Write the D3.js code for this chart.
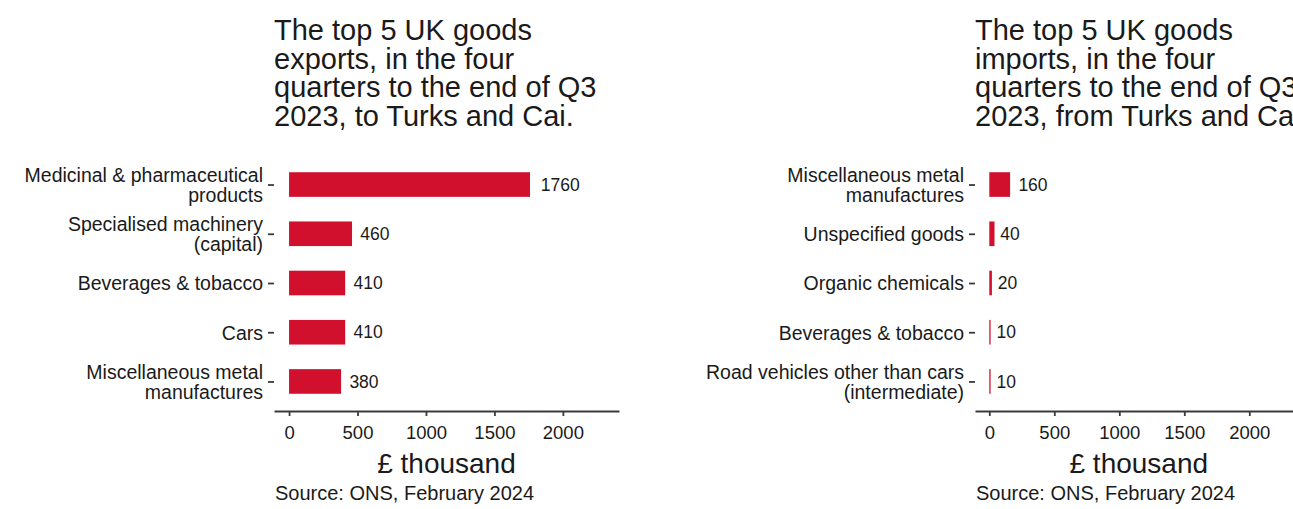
<!DOCTYPE html>
<html>
<head>
<meta charset="utf-8">
<script src="https://cdn.jsdelivr.net/npm/d3@7"></script>
<style>
  body { margin: 0; background: #fff; }
  text { font-family: "Liberation Sans", Arial, sans-serif; fill: #1a1a1a; }
</style>
</head>
<body>
<svg id="chart"></svg>
<script>
const svgWidth = 1293;
const svgHeight = 509;

// data
const exportCategories = [
  'Medicinal & pharmaceutical\nproducts',
  'Specialised machinery\n(capital)',
  'Beverages & tobacco',
  'Cars',
  'Miscellaneous metal\nmanufactures',
];
const exportValues = [1760, 460, 410, 410, 380];

const importCategories = [
  'Miscellaneous metal\nmanufactures',
  'Unspecified goods',
  'Organic chemicals',
  'Beverages & tobacco',
  'Road vehicles other than cars\n(intermediate)',
];
const importValues = [160, 40, 20, 10, 10];

const xTicks = [0, 500, 1000, 1500, 2000];
const exportTitle = ['The top 5 UK goods', 'exports, in the four', 'quarters to the end of Q3', '2023, to Turks and Cai.'];
const importTitle = ['The top 5 UK goods', 'imports, in the four', 'quarters to the end of Q3', '2023, from Turks and Cai.'];
const xAxisTitle = '£ thousand';
const sourceNote = 'Source: ONS, February 2024';

const barColor = '#d0102c';
const axisColor = '#3a3a3a';

const svg = d3.select('#chart')
  .attr('width', svgWidth)
  .attr('height', svgHeight);

function drawPanel(opts) {
  const { left, right, categories, values, title } = opts;
  const top = 155;
  const bottom = 411;

  const x = d3.scaleLinear()
    .domain([-110, 2410])
    .range([left, right]);

  // ggplot-like discrete expansion (0.6 of a step each side)
  const step = (bottom - top) / (categories.length - 1 + 1.2);
  const y = d3.scalePoint()
    .domain(categories)
    .range([top + 0.6 * step, bottom - 0.6 * step]);
  const barH = step * 0.5;

  const g = svg.append('g');

  // bars
  g.append('g')
    .selectAll('rect')
    .data(values)
    .enter()
    .append('rect')
    .attr('x', x(0))
    .attr('y', (d, i) => y(categories[i]) - barH / 2)
    .attr('width', d => x(d) - x(0))
    .attr('height', barH)
    .attr('fill', barColor);

  // value labels, nudged right by a share of their width
  g.append('g')
    .selectAll('text')
    .data(values)
    .enter()
    .append('text')
    .attr('y', (d, i) => y(categories[i]))
    .attr('dy', '0.35em')
    .attr('font-size', 17.5)
    .attr('fill', '#333')
    .text(d => d)
    .attr('x', function (d) { return x(d) + this.getComputedTextLength() / 4 + 1; });

  // y-axis
  const yAxis = g.append('g')
    .attr('transform', `translate(${left},0)`)
    .call(d3.axisLeft(y).tickSize(6).tickPadding(5));
  yAxis.select('.domain').remove();
  yAxis.selectAll('.tick line')
    .attr('stroke', axisColor)
    .attr('stroke-width', 1.8);
  yAxis.selectAll('.tick text')
    .attr('font-size', 19.5)
    .attr('font-family', '"Liberation Sans", Arial, sans-serif')
    .attr('fill', '#1a1a1a')
    .each(function (d) {
      const lines = d.split('\n');
      const t = d3.select(this).text(null).attr('dy', null);
      const lh = 19.5;
      lines.forEach((line, i) => {
        t.append('tspan')
          .attr('x', -11)
          .attr('y', (i - (lines.length - 1) / 2) * lh)
          .attr('dy', '0.35em')
          .text(line);
      });
    });

  // x-axis
  const xAxis = g.append('g')
    .attr('transform', `translate(0,${bottom})`)
    .call(d3.axisBottom(x)
      .tickValues(xTicks)
      .tickFormat(d3.format('d'))
      .tickSize(5)
      .tickSizeOuter(0)
      .tickPadding(10));
  xAxis.select('.domain')
    .attr('stroke', axisColor)
    .attr('stroke-width', 2.2);
  xAxis.selectAll('.tick line')
    .attr('stroke', axisColor)
    .attr('stroke-width', 1.8);
  xAxis.selectAll('.tick text')
    .attr('font-size', 18.5)
    .attr('font-family', '"Liberation Sans", Arial, sans-serif')
    .attr('fill', '#1a1a1a');

  // title
  const titleText = g.append('text')
    .attr('font-size', 29);
  title.forEach((line, i) => {
    titleText.append('tspan')
      .attr('x', left)
      .attr('y', 40 + i * 28.5)
      .text(line);
  });

  // axis title
  g.append('text')
    .attr('x', (left + right) / 2)
    .attr('y', 473)
    .attr('text-anchor', 'middle')
    .attr('font-size', 28)
    .text(xAxisTitle);

  // source
  g.append('text')
    .attr('x', left + 1)
    .attr('y', 500)
    .attr('font-size', 20)
    .text(sourceNote);
}

drawPanel({ left: 274, right: 619, categories: exportCategories, values: exportValues, title: exportTitle });
drawPanel({ left: 975, right: 1302.6, categories: importCategories, values: importValues, title: importTitle });
</script>
</body>
</html>
